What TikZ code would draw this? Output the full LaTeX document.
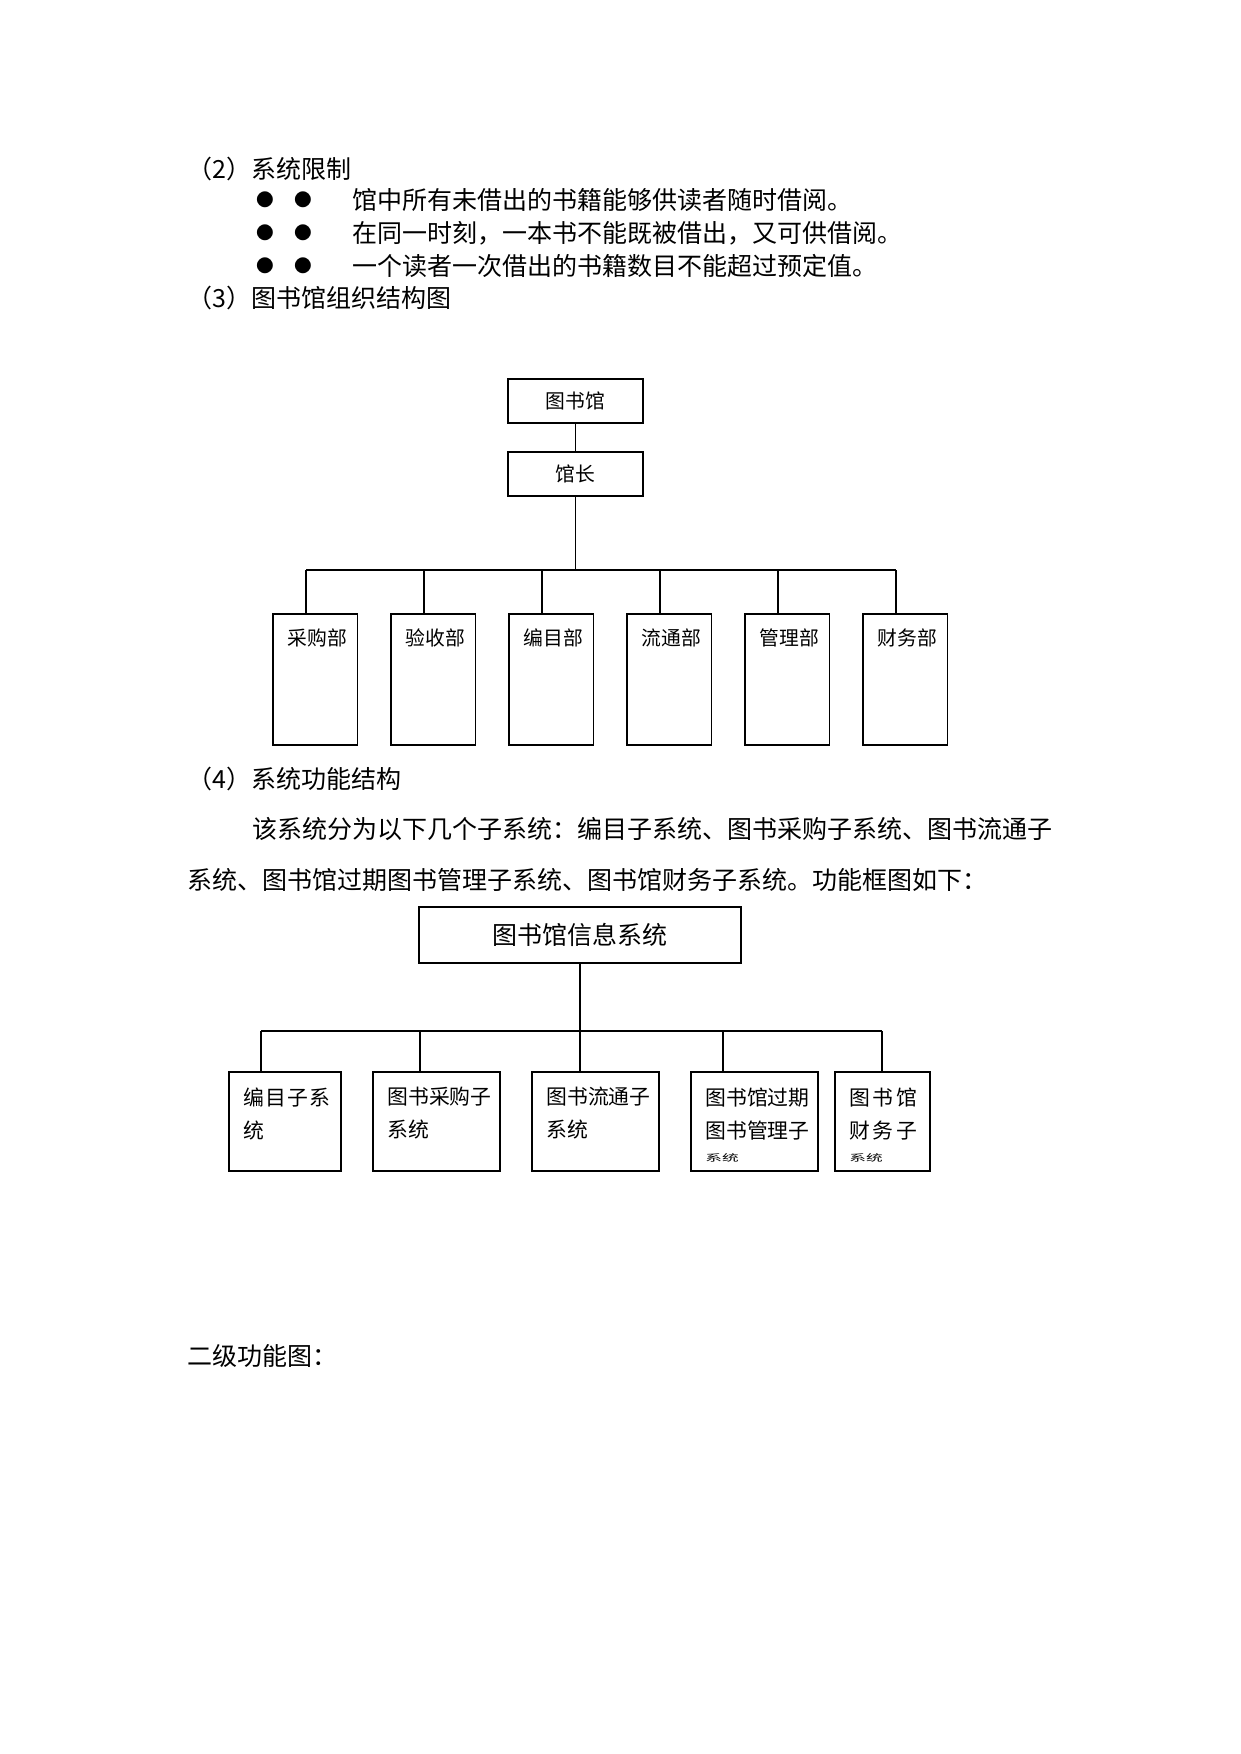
\documentclass[tikz,border=0pt]{standalone}
\usepackage{fontspec}
\setmainfont{Noto Sans CJK SC}
\usepackage{graphicx}

\tikzset{
  body/.style={anchor=west, inner sep=0pt, font=\fontsize{12pt}{15pt}\selectfont},
  dot/.style={inner sep=0pt, font=\fontsize{8.5pt}{10pt}\selectfont},
  bigbox/.style={draw, line width=0.8pt, inner sep=0pt},
  deptbox/.style={draw, line width=0.8pt, inner sep=0pt, anchor=north west,
    minimum width=40.56pt, minimum height=62.9pt},
  depttext/.style={anchor=west, inner sep=0pt, font=\fontsize{9.5pt}{12pt}\selectfont},
  subbox/.style={draw, line width=0.8pt, inner sep=0pt, anchor=north west,
    minimum height=47.52pt},
  subtext/.style={anchor=north west, inner sep=0pt, align=left,
    font=\fontsize{10pt}{15.84pt}\selectfont},
  link/.style={line width=0.5pt},
  bus/.style={line width=0.8pt}
}

\begin{document}
\begin{tikzpicture}[x=0.48pt, y=-0.48pt]
  \useasboundingbox (0,0) rectangle (1241,1754);

  % text above the charts
  \node[body] (h2) at (187.5,169) {（2）系统限制};
  \foreach \y [count=\k] in {200,233,265.5}
  {   \node[dot] (ba\k) at (265,\y) {●};
    \node[dot] (bb\k) at (303,\y) {●};}
  \node[body] (r1) at (352,200) {馆中所有未借出的书籍能够供读者随时借阅。};
  \node[body] (r2) at (352,233) {在同一时刻，一本书不能既被借出，又可供借阅。};
  \node[body] (r3) at (352,265.5) {一个读者一次借出的书籍数目不能超过预定值。};
  \node[body] (h3) at (187.5,298) {（3）图书馆组织结构图};

  % organisation chart
  \node[bigbox, minimum width=65.1pt, minimum height=21.1pt,
    font=\fontsize{9.5pt}{12pt}\selectfont] (lib) at (575.5,401) {图书馆};
  \node[bigbox, minimum width=65.1pt, minimum height=21.1pt,
    font=\fontsize{9.5pt}{12pt}\selectfont] (head) at (575.5,474) {馆长};
  \draw[link] (lib) -- (head);
  \coordinate (busL) at (306,570);
  \coordinate (busR) at (896,570);
  \draw[link] (head) -- (head |- busL);
  \draw[bus] (busL) -- (busR);
  \foreach \dept [count=\i from 0] in {采购部,验收部,编目部,流通部,管理部,财务部}
  {   \node[deptbox] (d\i) at (272+118*\i,613) {};
    \node[depttext] (dl\i) at ([shift={(15,25)}]d\i.north west) {\dept};
    \coordinate (dt\i) at ([shift={(34,0)}]d\i.north west);
    \draw[link] (dt\i) -- (dt\i |- busL);}

  % text between the charts
  \node[body] (h4) at (187.5,778.5) {（4）系统功能结构};
  \node[body] (p1) at (252,829) {该系统分为以下几个子系统：编目子系统、图书采购子系统、图书流通子};
  \node[body] (p2) at (187.5,880) {系统、图书馆过期图书管理子系统、图书馆财务子系统。功能框图如下：};

  % function chart
  \node[bigbox, minimum width=154.4pt, minimum height=26.9pt,
    font=\fontsize{12pt}{15pt}\selectfont] (sys) at (580,935) {图书馆信息系统};
  \coordinate (busL2) at (261,1031);
  \coordinate (busR2) at (882,1031);
  \draw[link] (sys) -- (sys |- busL2);
  \draw[bus] (busL2) -- (busR2);
  \foreach \i/\l/\w/\o in {1/228/53.76/33, 2/372/60.96/48, 3/531/60.96/49, 4/690/60.96/33, 5/834/45.6/48}
  {   \node[subbox, minimum width=\w pt] (s\i) at (\l,1071) {};
    \coordinate (st\i) at ([shift={(\o,0)}]s\i.north west);
    \draw[link] (st\i) -- (st\i |- busL2);}
  \node[subtext] (sl1) at ([shift={(15,16)}]s1.north west)
    {\makebox[41.8pt][s]{编\hfil 目\hfil 子\hfil 系}\\统};
  \node[subtext] (sl2) at ([shift={(15,16)}]s2.north west) {图书采购子\\系统};
  \node[subtext] (sl3) at ([shift={(15,16)}]s3.north west) {图书流通子\\系统};
  \node[subtext] (sl4) at ([shift={(15,16)}]s4.north west)
    {图书馆过期\\图书管理子\\[-4.5pt]\scalebox{0.8}[0.45]{系统}};
  \node[subtext] (sl5) at ([shift={(15,16)}]s5.north west)
    {\makebox[32.6pt][s]{图\hfil 书\hfil 馆}\\\makebox[32.6pt][s]{财\hfil 务\hfil 子}\\[-4.5pt]\scalebox{0.8}[0.45]{系统}};

  \node[body] (h5) at (187.5,1356) {二级功能图：};
\end{tikzpicture}
\end{document}
